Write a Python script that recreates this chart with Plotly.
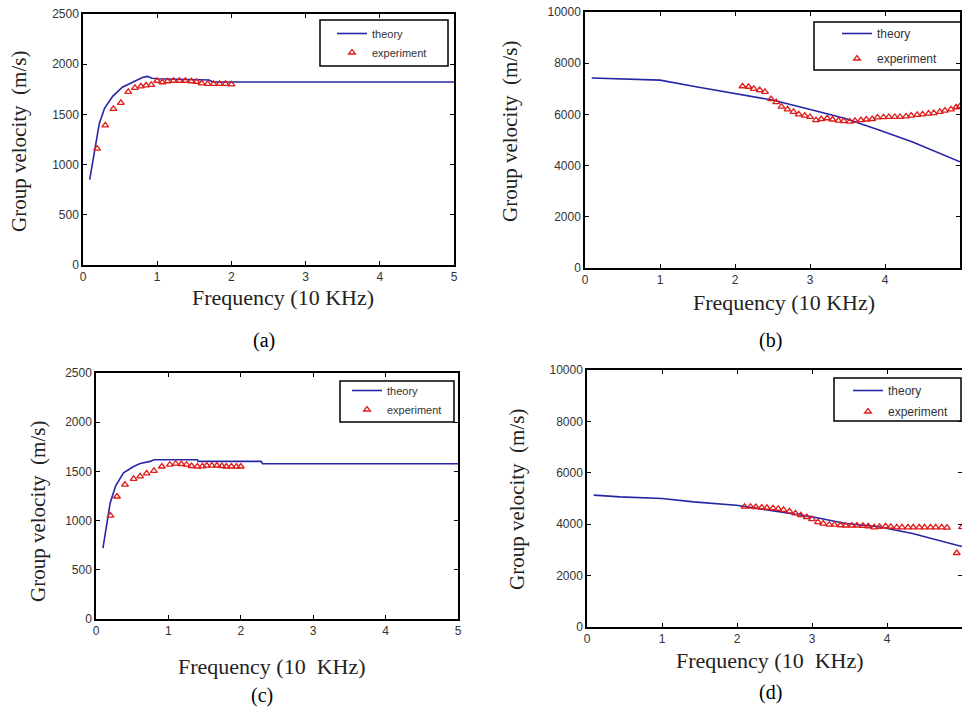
import plotly.graph_objects as go

W, H = 962, 708

# ---- data: frequency in units of 10 kHz, group velocity in m/s ----
a_theory_f = [0.09, 0.13, 0.18, 0.22, 0.29, 0.40, 0.53, 0.67, 0.80, 0.87, 0.93, 1.00, 1.30, 1.70, 1.75, 2.50, 3.50, 5.00]
a_theory_v = [850, 1010, 1245, 1410, 1560, 1680, 1770, 1825, 1868, 1878, 1860, 1855, 1848, 1842, 1822, 1822, 1822, 1822]
a_exp_f = [0.19, 0.30, 0.41, 0.51, 0.61, 0.70, 0.78, 0.85, 0.92, 1.00, 1.07, 1.14, 1.22, 1.30, 1.38, 1.46,
           1.53, 1.60, 1.68, 1.76, 1.84, 1.92, 2.00]
a_exp_v = [1160, 1390, 1555, 1615, 1725, 1765, 1780, 1790, 1795, 1835, 1820, 1830, 1835, 1835, 1835, 1830,
           1825, 1810, 1805, 1805, 1805, 1805, 1800]

b_theory_f = [0.09, 0.46, 1.00, 1.48, 2.00, 2.50, 3.03, 3.47, 3.92, 4.36, 5.00]
b_theory_v = [7420, 7390, 7340, 7080, 6820, 6560, 6170, 5840, 5390, 4930, 4150]
b_exp_f = [2.10, 2.18, 2.25, 2.33, 2.40, 2.48, 2.55, 2.62, 2.70, 2.78, 2.85, 2.93, 3.00, 3.08, 3.15, 3.23,
           3.30, 3.38, 3.45, 3.53, 3.60, 3.68, 3.75, 3.83, 3.90, 3.98, 4.05, 4.13, 4.20, 4.28, 4.35, 4.43,
           4.50, 4.58, 4.65, 4.73, 4.80, 4.88, 4.95, 5.00]
b_exp_v = [7100, 7080, 7000, 6950, 6880, 6600, 6480, 6300, 6200, 6100, 6000, 5950, 5900, 5780, 5820, 5850,
           5800, 5760, 5740, 5720, 5750, 5780, 5800, 5820, 5880, 5890, 5900, 5900, 5900, 5920, 5950, 5980,
           6000, 6030, 6050, 6100, 6150, 6200, 6280, 6320]

c_theory_f = [0.096, 0.14, 0.196, 0.27, 0.38, 0.52, 0.61, 0.75, 0.80, 1.40, 1.41, 2.28, 2.30, 5.00]
c_theory_v = [720, 940, 1180, 1350, 1485, 1550, 1580, 1602, 1618, 1618, 1602, 1602, 1578, 1578]
c_exp_f = [0.20, 0.29, 0.40, 0.52, 0.61, 0.70, 0.80, 0.91, 1.02, 1.10, 1.18, 1.25, 1.32, 1.40, 1.47, 1.53,
           1.60, 1.67, 1.74, 1.80, 1.87, 1.94, 2.00]
c_exp_v = [1050, 1245, 1365, 1425, 1450, 1480, 1505, 1550, 1568, 1578, 1575, 1568, 1555, 1550, 1552, 1558,
           1558, 1560, 1555, 1550, 1550, 1548, 1550]

d_theory_f = [0.09, 0.44, 1.00, 1.42, 1.99, 2.57, 3.00, 3.45, 3.89, 4.34, 5.00]
d_theory_v = [5130, 5065, 5000, 4870, 4740, 4480, 4290, 4030, 3900, 3640, 3130]
d_exp_f = [2.10, 2.18, 2.25, 2.33, 2.40, 2.48, 2.55, 2.62, 2.70, 2.78, 2.85, 2.93, 3.00, 3.08, 3.15, 3.23,
           3.30, 3.38, 3.45, 3.53, 3.60, 3.68, 3.75, 3.83, 3.90, 3.98, 4.05, 4.13, 4.20, 4.28, 4.35, 4.43,
           4.50, 4.58, 4.65, 4.73, 4.80, 4.93, 5.00]
d_exp_v = [4680, 4680, 4670, 4650, 4640, 4620, 4600, 4560, 4500, 4420, 4350, 4280, 4200, 4080, 4020, 3980,
           3980, 3960, 3950, 3950, 3950, 3940, 3920, 3880, 3900, 3920, 3900, 3880, 3880, 3880, 3880, 3880,
           3880, 3880, 3880, 3880, 3870, 2880, 3890]

x_ticks = [0, 1, 2, 3, 4, 5]
y_ticks_small = [0, 500, 1000, 1500, 2000, 2500]
y_ticks_large = [0, 2000, 4000, 6000, 8000, 10000]
panel_tags = ["(a)", "(b)", "(c)", "(d)"]

THEORY = "#2626a6"
EXPER = "#e01b1b"
SERIF = "Liberation Serif, Times New Roman, serif"
SANS = "Liberation Sans, Arial, sans-serif"


def px_x(p):
    return p / W


def px_y(p):
    return 1 - p / H


# plot boxes in pixels: left, right, top, bottom
boxes = [
    (83, 454, 14, 265),
    (585, 960, 12, 268),
    (96, 458, 373, 619),
    (587, 962, 370, 627),
]
yranges = [[0, 2500], [0, 10000], [0, 2500], [0, 10000]]
yticks = [y_ticks_small, y_ticks_large, y_ticks_small, y_ticks_large]
series = [
    (a_theory_f, a_theory_v, a_exp_f, a_exp_v),
    (b_theory_f, b_theory_v, b_exp_f, b_exp_v),
    (c_theory_f, c_theory_v, c_exp_f, c_exp_v),
    (d_theory_f, d_theory_v, d_exp_f, d_exp_v),
]
# legend boxes (left, top, right, bottom); text start x, top offset, row gap
leg_boxes = [
    (320, 20, 448, 66),
    (814, 22, 961, 70),
    (340, 381, 454, 422),
    (834, 378, 961, 421),
]
leg_text = [(372, 19, 0), (877, 19, 6), (387, 376, 0), (888, 376, 2)]
leg_font = [11, 12, 11, 12]
# axis-title and panel-tag positions
xtitle_pos = [(283, 297), (784, 302), (272, 666), (770, 660)]
ytitle_pos = [(19, 142), (510, 132), (38, 512), (517, 500)]
tag_pos = [(264, 340), (770, 340), (262, 695), (770, 692)]

fig = go.Figure()
layout = dict(
    width=W, height=H,
    margin=dict(l=0, r=0, t=0, b=0, autoexpand=False),
    paper_bgcolor="white", plot_bgcolor="white",
    showlegend=True,
    shapes=[], annotations=[],
)

for i, (box, (tf, tv, ef, ev)) in enumerate(zip(boxes, series)):
    n = "" if i == 0 else str(i + 1)
    xa, ya = "x" + n, "y" + n
    leg = "legend" + n
    fig.add_trace(go.Scatter(
        x=tf, y=tv, mode="lines", name="theory",
        line=dict(color=THEORY, width=1.6),
        xaxis=xa, yaxis=ya, legend=leg, legendgroup="t" + n,
    ))
    fig.add_trace(go.Scatter(
        x=ef, y=ev, mode="markers", name="experiment",
        marker=dict(symbol="triangle-up-open", size=6, color=EXPER, line=dict(width=1.3)),
        xaxis=xa, yaxis=ya, legend=leg, legendgroup="e" + n,
    ))
    l, r, t, b = box
    common = dict(
        showline=True, linecolor="black", linewidth=1.5, mirror="ticks",
        ticks="inside", ticklen=4, tickcolor="black", tickwidth=1.3,
        showgrid=False, zeroline=False,
        tickfont=dict(family=SANS, size=12, color="#333"),
    )
    layout["xaxis" + n] = dict(
        domain=[px_x(l), px_x(r)], range=[0, 5], tickvals=x_ticks,
        ticktext=[str(v) for v in x_ticks],
        anchor=ya, **common,
    )
    layout["yaxis" + n] = dict(
        domain=[px_y(b), px_y(t)], range=yranges[i], tickvals=yticks[i],
        ticktext=[str(v) for v in yticks[i]],
        anchor=xa, **common,
    )
    bl, bt, br, bb = leg_boxes[i]
    layout["shapes"].append(dict(
        type="rect", xref="paper", yref="paper",
        x0=px_x(bl), x1=px_x(br), y0=px_y(bb), y1=px_y(bt),
        line=dict(color="black", width=1.5), fillcolor="rgba(0,0,0,0)", layer="above",
    ))
    tx0, ty0, gap = leg_text[i]
    fs = leg_font[i]
    layout[leg] = dict(
        x=px_x(tx0 - 40), y=px_y(ty0), xanchor="left", yanchor="top",
        bgcolor="rgba(0,0,0,0)", borderwidth=0,
        font=dict(family=SANS, size=fs, color="#333"),
        tracegroupgap=gap,
    )
    xt, yt = xtitle_pos[i]
    layout["annotations"].append(dict(
        text="Frequency (10  KHz)" if i >= 2 else "Frequency (10 KHz)",
        x=px_x(xt), y=px_y(yt), xref="paper", yref="paper",
        showarrow=False, font=dict(family=SERIF, size=22, color="#222"),
        xanchor="center", yanchor="middle",
    ))
    yx, yy = ytitle_pos[i]
    layout["annotations"].append(dict(
        text="Group velocity  (m/s)",
        x=px_x(yx), y=px_y(yy), xref="paper", yref="paper",
        showarrow=False, textangle=-90, font=dict(family=SERIF, size=21, color="#222"),
        xanchor="center", yanchor="middle",
    ))
    tx, ty = tag_pos[i]
    layout["annotations"].append(dict(
        text=panel_tags[i], x=px_x(tx), y=px_y(ty), xref="paper", yref="paper",
        showarrow=False, font=dict(family=SERIF, size=20, color="black"),
        xanchor="center", yanchor="middle",
    ))

fig.update_layout(**layout)
fig.write_html("out.html")
